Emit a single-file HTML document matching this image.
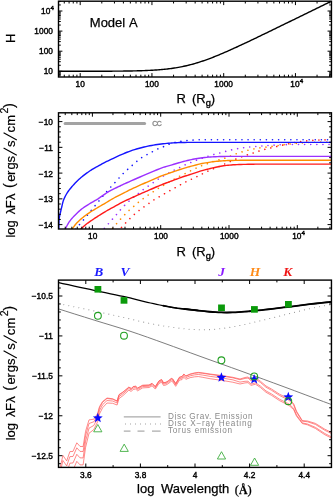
<!DOCTYPE html>
<html><head><meta charset="utf-8"><title>chart</title>
<style>html,body{margin:0;padding:0;background:#fff}body{width:333px;height:497px;overflow:hidden;font-family:"Liberation Sans",sans-serif}svg{display:block;will-change:transform;opacity:0.999}</style>
</head><body>
<svg width="333" height="497" viewBox="0 0 333 497">
<style>text{font-family:"Liberation Sans",sans-serif;fill:#000}.tl{font-size:8.3px;stroke:#000;stroke-width:0.4px;letter-spacing:0.06px}.ax{font-size:13px;word-spacing:3px;stroke:#000;stroke-width:0.25px}.yl{font-size:13px;stroke:#000;stroke-width:0.2px}</style>
<rect width="333" height="497" fill="#fff"/>
<clipPath id="c1"><rect x="58.5" y="1.2" width="272.95" height="75.8"/></clipPath>
<path d="M58.6 71.29 L59.96 71.29 L61.32 71.29 L62.68 71.29 L64.04 71.29 L65.4 71.29 L66.76 71.29 L68.12 71.29 L69.49 71.29 L70.85 71.29 L72.21 71.29 L73.57 71.29 L74.93 71.29 L76.29 71.28 L77.65 71.28 L79.01 71.28 L80.37 71.28 L81.73 71.28 L83.09 71.28 L84.45 71.27 L85.81 71.27 L87.17 71.27 L88.53 71.27 L89.89 71.27 L91.25 71.26 L92.61 71.26 L93.97 71.26 L95.34 71.25 L96.7 71.25 L98.06 71.25 L99.42 71.24 L100.78 71.24 L102.14 71.23 L103.5 71.23 L104.86 71.22 L106.22 71.21 L107.58 71.21 L108.94 71.2 L110.3 71.19 L111.66 71.18 L113.02 71.17 L114.38 71.16 L115.74 71.15 L117.1 71.14 L118.46 71.13 L119.82 71.12 L121.19 71.1 L122.55 71.09 L123.91 71.07 L125.27 71.05 L126.63 71.03 L127.99 71.01 L129.35 70.99 L130.71 70.96 L132.07 70.94 L133.43 70.91 L134.79 70.88 L136.15 70.85 L137.51 70.81 L138.87 70.77 L140.23 70.73 L141.59 70.69 L142.95 70.64 L144.31 70.59 L145.67 70.54 L147.03 70.48 L148.4 70.42 L149.76 70.35 L151.12 70.28 L152.48 70.21 L153.84 70.13 L155.2 70.04 L156.56 69.95 L157.92 69.85 L159.28 69.74 L160.64 69.63 L162 69.51 L163.36 69.38 L164.72 69.25 L166.08 69.1 L167.44 68.95 L168.8 68.79 L170.16 68.62 L171.52 68.44 L172.88 68.24 L174.25 68.04 L175.61 67.83 L176.97 67.6 L178.33 67.37 L179.69 67.12 L181.05 66.86 L182.41 66.59 L183.77 66.3 L185.13 66.01 L186.49 65.7 L187.85 65.38 L189.21 65.04 L190.57 64.69 L191.93 64.33 L193.29 63.96 L194.65 63.57 L196.01 63.18 L197.37 62.77 L198.73 62.34 L200.1 61.91 L201.46 61.46 L202.82 61.01 L204.18 60.54 L205.54 60.06 L206.9 59.58 L208.26 59.08 L209.62 58.57 L210.98 58.05 L212.34 57.53 L213.7 57 L215.06 56.45 L216.42 55.91 L217.78 55.35 L219.14 54.79 L220.5 54.22 L221.86 53.64 L223.22 53.06 L224.58 52.47 L225.95 51.88 L227.31 51.28 L228.67 50.68 L230.03 50.07 L231.39 49.46 L232.75 48.85 L234.11 48.23 L235.47 47.61 L236.83 46.99 L238.19 46.36 L239.55 45.73 L240.91 45.1 L242.27 44.46 L243.63 43.82 L244.99 43.19 L246.35 42.54 L247.71 41.9 L249.07 41.26 L250.43 40.61 L251.8 39.96 L253.16 39.31 L254.52 38.66 L255.88 38.01 L257.24 37.36 L258.6 36.7 L259.96 36.05 L261.32 35.39 L262.68 34.74 L264.04 34.08 L265.4 33.42 L266.76 32.76 L268.12 32.1 L269.48 31.44 L270.84 30.78 L272.2 30.12 L273.56 29.46 L274.92 28.8 L276.28 28.14 L277.64 27.48 L279.01 26.81 L280.37 26.15 L281.73 25.49 L283.09 24.82 L284.45 24.16 L285.81 23.49 L287.17 22.83 L288.53 22.17 L289.89 21.5 L291.25 20.84 L292.61 20.17 L293.97 19.51 L295.33 18.84 L296.69 18.18 L298.05 17.51 L299.41 16.84 L300.77 16.18 L302.13 15.51 L303.49 14.85 L304.86 14.18 L306.22 13.51 L307.58 12.85 L308.94 12.18 L310.3 11.52 L311.66 10.85 L313.02 10.18 L314.38 9.52 L315.74 8.85 L317.1 8.18 L318.46 7.52 L319.82 6.85 L321.18 6.18 L322.54 5.52 L323.9 4.85 L325.26 4.18 L326.62 3.52 L327.98 2.85 L329.34 2.18 L330.71 1.52" fill="none" stroke="#000" stroke-width="1.4" clip-path="url(#c1)"/>
<path d="M80.2 77 v-3.9 M80.2 1.2 v3.9 M151.95 77 v-3.9 M151.95 1.2 v3.9 M223.7 77 v-3.9 M223.7 1.2 v3.9 M295.45 77 v-3.9 M295.45 1.2 v3.9 M58.6 77 v-2.3 M58.6 1.2 v2.3 M64.28 77 v-2.3 M64.28 1.2 v2.3 M69.09 77 v-2.3 M69.09 1.2 v2.3 M73.25 77 v-2.3 M73.25 1.2 v2.3 M76.92 77 v-2.3 M76.92 1.2 v2.3 M101.8 77 v-2.3 M101.8 1.2 v2.3 M114.43 77 v-2.3 M114.43 1.2 v2.3 M123.4 77 v-2.3 M123.4 1.2 v2.3 M130.35 77 v-2.3 M130.35 1.2 v2.3 M136.03 77 v-2.3 M136.03 1.2 v2.3 M140.84 77 v-2.3 M140.84 1.2 v2.3 M145 77 v-2.3 M145 1.2 v2.3 M148.67 77 v-2.3 M148.67 1.2 v2.3 M173.55 77 v-2.3 M173.55 1.2 v2.3 M186.18 77 v-2.3 M186.18 1.2 v2.3 M195.15 77 v-2.3 M195.15 1.2 v2.3 M202.1 77 v-2.3 M202.1 1.2 v2.3 M207.78 77 v-2.3 M207.78 1.2 v2.3 M212.59 77 v-2.3 M212.59 1.2 v2.3 M216.75 77 v-2.3 M216.75 1.2 v2.3 M220.42 77 v-2.3 M220.42 1.2 v2.3 M245.3 77 v-2.3 M245.3 1.2 v2.3 M257.93 77 v-2.3 M257.93 1.2 v2.3 M266.9 77 v-2.3 M266.9 1.2 v2.3 M273.85 77 v-2.3 M273.85 1.2 v2.3 M279.53 77 v-2.3 M279.53 1.2 v2.3 M284.34 77 v-2.3 M284.34 1.2 v2.3 M288.5 77 v-2.3 M288.5 1.2 v2.3 M292.17 77 v-2.3 M292.17 1.2 v2.3 M317.05 77 v-2.3 M317.05 1.2 v2.3 M329.68 77 v-2.3 M329.68 1.2 v2.3" stroke="#000" stroke-width="1.0" fill="none"/>
<path d="M58.5 71.3 h3.9 M331.45 71.3 h-3.9 M58.5 51.2 h3.9 M331.45 51.2 h-3.9 M58.5 31.1 h3.9 M331.45 31.1 h-3.9 M58.5 11 h3.9 M331.45 11 h-3.9 M58.5 75.76 h2.3 M331.45 75.76 h-2.3 M58.5 74.41 h2.3 M331.45 74.41 h-2.3 M58.5 73.25 h2.3 M331.45 73.25 h-2.3 M58.5 72.22 h2.3 M331.45 72.22 h-2.3 M58.5 65.25 h2.3 M331.45 65.25 h-2.3 M58.5 61.71 h2.3 M331.45 61.71 h-2.3 M58.5 59.2 h2.3 M331.45 59.2 h-2.3 M58.5 57.25 h2.3 M331.45 57.25 h-2.3 M58.5 55.66 h2.3 M331.45 55.66 h-2.3 M58.5 54.31 h2.3 M331.45 54.31 h-2.3 M58.5 53.15 h2.3 M331.45 53.15 h-2.3 M58.5 52.12 h2.3 M331.45 52.12 h-2.3 M58.5 45.15 h2.3 M331.45 45.15 h-2.3 M58.5 41.61 h2.3 M331.45 41.61 h-2.3 M58.5 39.1 h2.3 M331.45 39.1 h-2.3 M58.5 37.15 h2.3 M331.45 37.15 h-2.3 M58.5 35.56 h2.3 M331.45 35.56 h-2.3 M58.5 34.21 h2.3 M331.45 34.21 h-2.3 M58.5 33.05 h2.3 M331.45 33.05 h-2.3 M58.5 32.02 h2.3 M331.45 32.02 h-2.3 M58.5 25.05 h2.3 M331.45 25.05 h-2.3 M58.5 21.51 h2.3 M331.45 21.51 h-2.3 M58.5 19 h2.3 M331.45 19 h-2.3 M58.5 17.05 h2.3 M331.45 17.05 h-2.3 M58.5 15.46 h2.3 M331.45 15.46 h-2.3 M58.5 14.11 h2.3 M331.45 14.11 h-2.3 M58.5 12.95 h2.3 M331.45 12.95 h-2.3 M58.5 11.92 h2.3 M331.45 11.92 h-2.3 M58.5 4.95 h2.3 M331.45 4.95 h-2.3 M58.5 1.41 h2.3 M331.45 1.41 h-2.3" stroke="#000" stroke-width="1.0" fill="none"/>
<rect x="58.5" y="1.2" width="272.95" height="75.8" fill="none" stroke="#000" stroke-width="1.4"/>
<text x="80.2" y="87.2" font-size="8.2" text-anchor="middle" class="tl">10</text>
<text x="151.95" y="87.2" font-size="8.2" text-anchor="middle" class="tl">100</text>
<text x="223.7" y="87.2" font-size="8.2" text-anchor="middle" class="tl">1000</text>
<text x="296.75" y="87.2" font-size="8.2" text-anchor="middle" class="tl">10<tspan dy="-3.8" style="font-size:6.2px">4</tspan></text>
<text x="53" y="74.3" font-size="8.2" text-anchor="end" class="tl">10</text>
<text x="53" y="54.2" font-size="8.2" text-anchor="end" class="tl">100</text>
<text x="53" y="34.1" font-size="8.2" text-anchor="end" class="tl">1000</text>
<text x="50.4" y="14" text-anchor="end" class="tl">10</text><text x="50.5" y="10" class="tl" style="font-size:6.2px">4</text>
<text x="89.8" y="27.2" class="ax" style="word-spacing:0.8px">Model A</text>
<text transform="translate(14.8,42.9) rotate(-90)" class="ax">H</text>
<text x="176.6" y="102.7" class="ax" style="word-spacing:2.3px">R (R<tspan dy="3.3" style="font-size:9.3px;stroke-width:0.4px">g</tspan><tspan dy="-3.3">)</tspan></text>
<clipPath id="c2"><rect x="58.5" y="112.8" width="272.95" height="116.2"/></clipPath>
<path d="M65.1 123.5 H144.6" stroke="#a3a3a3" stroke-width="3" stroke-linecap="round" fill="none"/>
<text x="152.2" y="125.6" font-size="7" style="fill:#858585;stroke:#858585;stroke-width:0.3px;letter-spacing:-0.4px">CC</text>
<g clip-path="url(#c2)" fill="none">
<path d="M117.4 232 L118.2 231.1 L119.34 229.83 L120.68 228.33 L122.08 226.77 L123.4 225.31 L124.5 224.1 L125.38 223.15 L126.13 222.34 L126.81 221.62 L127.46 220.95 L128.1 220.29 L128.8 219.6 L129.54 218.88 L130.29 218.17 L131.04 217.46 L131.79 216.77 L132.55 216.08 L133.3 215.4 L134.05 214.73 L134.79 214.07 L135.54 213.41 L136.29 212.77 L137.04 212.13 L137.8 211.5 L138.57 210.88 L139.33 210.28 L140.11 209.68 L140.89 209.09 L141.69 208.5 L142.5 207.9 L143.34 207.3 L144.2 206.7 L145.08 206.11 L145.96 205.51 L146.84 204.91 L147.7 204.3 L148.54 203.68 L149.36 203.06 L150.18 202.43 L151 201.8 L151.84 201.19 L152.7 200.6 L153.59 200.03 L154.51 199.49 L155.45 198.95 L156.39 198.43 L157.31 197.91 L158.2 197.4 L159.06 196.9 L159.88 196.42 L160.69 195.95 L161.51 195.48 L162.34 195 L163.2 194.5 L164.1 193.98 L165.04 193.44 L165.99 192.9 L166.94 192.36 L167.88 191.82 L168.8 191.3 L169.69 190.8 L170.56 190.31 L171.41 189.84 L172.27 189.36 L173.13 188.89 L174 188.4 L174.89 187.91 L175.79 187.41 L176.69 186.91 L177.59 186.4 L178.5 185.9 L179.4 185.4 L180.3 184.9 L181.19 184.39 L182.09 183.88 L182.99 183.38 L183.89 182.88 L184.8 182.4 L185.72 181.93 L186.66 181.47 L187.6 181.02 L188.54 180.57 L189.48 180.13 L190.4 179.7 L191.31 179.28 L192.2 178.87 L193.09 178.46 L193.99 178.06 L194.88 177.64 L195.8 177.2 L196.73 176.74 L197.68 176.26 L198.63 175.77 L199.59 175.27 L200.55 174.78 L201.5 174.3 L202.45 173.82 L203.41 173.35 L204.37 172.88 L205.32 172.41 L206.27 171.95 L207.2 171.5 L208.11 171.06 L208.99 170.64 L209.86 170.23 L210.74 169.81 L211.65 169.41 L212.6 169 L213.55 168.62 L214.47 168.28 L215.43 167.94 L216.45 167.57 L217.59 167.13 L218.9 166.6 L220.41 165.95 L222.09 165.21 L223.89 164.4 L225.76 163.56 L227.64 162.72 L229.5 161.9 L231.34 161.09 L233.21 160.27 L235.1 159.44 L237 158.63 L238.9 157.84 L240.8 157.1 L242.7 156.41 L244.6 155.75 L246.5 155.12 L248.4 154.51 L250.3 153.91 L252.2 153.3 L254.08 152.68 L255.94 152.06 L257.8 151.44 L259.67 150.84 L261.57 150.26 L263.5 149.7 L265.48 149.18 L267.5 148.68 L269.54 148.21 L271.59 147.74 L273.65 147.28 L275.7 146.8 L277.74 146.31 L279.79 145.81 L281.84 145.31 L283.9 144.82 L285.95 144.35 L288 143.9 L290.05 143.47 L292.1 143.05 L294.15 142.64 L296.2 142.26 L298.25 141.91 L300.3 141.6 L302.35 141.33 L304.4 141.09 L306.45 140.89 L308.5 140.71 L310.55 140.55 L312.6 140.4 L314.72 140.27 L316.93 140.17 L319.14 140.08 L321.26 140.01 L323.21 139.95 L324.9 139.9 L326.35 139.86 L327.62 139.83 L328.72 139.82 L329.65 139.81 L330.41 139.81 L331 139.8" stroke="#ff1a1a" stroke-width="1.6" stroke-dasharray="0.01 6.1" stroke-linecap="round"/>
<path d="M108.6 233 L109.47 231.98 L110.7 230.54 L112.14 228.84 L113.64 227.09 L115.05 225.44 L116.2 224.1 L117.08 223.07 L117.82 222.21 L118.46 221.47 L119.06 220.8 L119.65 220.12 L120.3 219.4 L120.99 218.64 L121.69 217.88 L122.39 217.13 L123.09 216.38 L123.79 215.64 L124.5 214.9 L125.21 214.17 L125.92 213.43 L126.63 212.71 L127.35 211.99 L128.07 211.29 L128.8 210.6 L129.54 209.94 L130.29 209.3 L131.04 208.68 L131.79 208.06 L132.55 207.44 L133.3 206.8 L134.05 206.14 L134.79 205.47 L135.54 204.79 L136.29 204.11 L137.04 203.45 L137.8 202.8 L138.57 202.18 L139.34 201.57 L140.12 200.98 L140.9 200.39 L141.7 199.8 L142.5 199.2 L143.31 198.58 L144.14 197.96 L144.98 197.33 L145.81 196.71 L146.66 196.09 L147.5 195.5 L148.34 194.93 L149.19 194.37 L150.04 193.83 L150.9 193.29 L151.75 192.75 L152.6 192.2 L153.45 191.64 L154.29 191.07 L155.13 190.49 L155.98 189.92 L156.83 189.36 L157.7 188.8 L158.55 188.27 L159.39 187.77 L160.22 187.28 L161.1 186.76 L162.05 186.21 L163.1 185.6 L164.27 184.92 L165.53 184.17 L166.86 183.39 L168.24 182.59 L169.63 181.79 L171 181 L172.41 180.2 L173.87 179.36 L175.36 178.52 L176.8 177.71 L178.17 176.96 L179.4 176.3 L180.47 175.76 L181.41 175.32 L182.28 174.94 L183.1 174.58 L183.92 174.21 L184.8 173.8 L185.72 173.34 L186.66 172.85 L187.6 172.36 L188.54 171.86 L189.48 171.37 L190.4 170.9 L191.31 170.45 L192.2 170.01 L193.09 169.58 L193.99 169.15 L194.88 168.72 L195.8 168.3 L196.73 167.87 L197.68 167.44 L198.63 167.02 L199.59 166.6 L200.55 166.19 L201.5 165.8 L202.45 165.43 L203.39 165.07 L204.33 164.73 L205.28 164.39 L206.23 164.05 L207.2 163.7 L208.12 163.35 L208.97 163.01 L209.84 162.68 L210.78 162.32 L211.88 161.93 L213.2 161.5 L214.8 161.03 L216.63 160.52 L218.61 159.99 L220.67 159.42 L222.73 158.83 L224.7 158.2 L226.61 157.52 L228.51 156.78 L230.41 156.01 L232.31 155.23 L234.21 154.49 L236.1 153.8 L237.99 153.16 L239.87 152.56 L241.75 151.98 L243.63 151.42 L245.51 150.9 L247.4 150.4 L249.3 149.93 L251.2 149.49 L253.1 149.07 L255 148.69 L256.9 148.33 L258.8 148 L260.68 147.71 L262.54 147.47 L264.4 147.26 L266.27 147.05 L268.17 146.84 L270.1 146.6 L272.08 146.33 L274.1 146.04 L276.14 145.75 L278.19 145.46 L280.25 145.17 L282.3 144.9 L284.33 144.64 L286.36 144.39 L288.39 144.15 L290.43 143.92 L292.5 143.7 L294.6 143.5 L296.75 143.32 L298.93 143.15 L301.14 142.99 L303.37 142.85 L305.59 142.72 L307.8 142.6 L310.04 142.49 L312.32 142.39 L314.6 142.3 L316.84 142.22 L318.99 142.16 L321 142.1 L322.97 142.06 L324.94 142.03 L326.82 142.02 L328.53 142.01 L329.95 142.01 L331 142" stroke="#ff8c00" stroke-width="1.6" stroke-dasharray="0.01 6.1" stroke-linecap="round"/>
<path d="M100.4 233 L101.28 231.98 L102.53 230.54 L103.99 228.84 L105.51 227.09 L106.94 225.44 L108.1 224.1 L108.99 223.07 L109.74 222.21 L110.38 221.47 L110.97 220.8 L111.56 220.12 L112.2 219.4 L112.87 218.64 L113.54 217.9 L114.2 217.16 L114.86 216.42 L115.53 215.67 L116.2 214.9 L116.88 214.1 L117.56 213.28 L118.24 212.45 L118.92 211.62 L119.61 210.8 L120.3 210 L120.99 209.22 L121.69 208.46 L122.39 207.7 L123.09 206.96 L123.79 206.22 L124.5 205.5 L125.21 204.79 L125.91 204.11 L126.62 203.43 L127.33 202.76 L128.06 202.08 L128.8 201.4 L129.56 200.7 L130.33 199.99 L131.12 199.27 L131.91 198.56 L132.71 197.87 L133.5 197.2 L134.3 196.57 L135.1 195.96 L135.91 195.37 L136.72 194.79 L137.52 194.2 L138.3 193.6 L139.06 192.99 L139.8 192.37 L140.53 191.75 L141.27 191.13 L142.02 190.51 L142.8 189.9 L143.62 189.29 L144.46 188.69 L145.31 188.09 L146.18 187.49 L147.04 186.89 L147.9 186.3 L148.75 185.71 L149.6 185.13 L150.44 184.55 L151.29 183.97 L152.14 183.39 L153 182.8 L153.86 182.2 L154.73 181.59 L155.6 180.98 L156.47 180.37 L157.34 179.77 L158.2 179.2 L159.05 178.65 L159.89 178.13 L160.73 177.62 L161.57 177.11 L162.43 176.61 L163.3 176.1 L164.19 175.58 L165.1 175.06 L166.03 174.54 L166.95 174.02 L167.88 173.51 L168.8 173 L169.71 172.5 L170.63 172.01 L171.54 171.53 L172.45 171.04 L173.37 170.57 L174.3 170.1 L175.24 169.64 L176.19 169.19 L177.14 168.74 L178.09 168.3 L179.05 167.85 L180 167.4 L180.95 166.93 L181.91 166.45 L182.87 165.97 L183.82 165.49 L184.77 165.03 L185.7 164.6 L186.61 164.2 L187.5 163.83 L188.38 163.48 L189.27 163.13 L190.17 162.78 L191.1 162.4 L192 162.02 L192.86 161.64 L193.73 161.25 L194.69 160.84 L195.79 160.4 L197.1 159.9 L198.74 159.32 L200.67 158.66 L202.76 157.96 L204.84 157.27 L206.77 156.63 L208.4 156.1 L209.69 155.68 L210.74 155.34 L211.65 155.06 L212.49 154.81 L213.34 154.57 L214.3 154.3 L215.29 154.04 L216.24 153.8 L217.2 153.58 L218.24 153.33 L219.42 153.05 L220.8 152.7 L222.42 152.27 L224.23 151.77 L226.19 151.23 L228.22 150.69 L230.28 150.16 L232.3 149.7 L234.3 149.29 L236.34 148.9 L238.4 148.54 L240.47 148.2 L242.54 147.89 L244.6 147.6 L246.65 147.35 L248.69 147.13 L250.72 146.93 L252.77 146.75 L254.83 146.58 L256.9 146.4 L258.94 146.22 L260.93 146.04 L262.93 145.88 L265 145.71 L267.21 145.55 L269.6 145.4 L271.92 145.25 L274.07 145.09 L276.34 144.94 L279.06 144.81 L282.51 144.69 L287 144.6 L293.3 144.54 L301.33 144.51 L310.09 144.5 L318.61 144.5 L325.91 144.5 L331 144.5" stroke="#9b30ff" stroke-width="1.6" stroke-dasharray="0.01 6.1" stroke-linecap="round"/>
<path d="M71.7 234 L72.56 232.97 L73.75 231.54 L75.16 229.84 L76.67 228.02 L78.19 226.19 L79.6 224.5 L80.92 222.92 L82.24 221.34 L83.56 219.76 L84.87 218.17 L86.19 216.59 L87.5 215 L88.76 213.46 L89.96 211.98 L91.16 210.49 L92.41 208.94 L93.78 207.27 L95.3 205.4 L97.06 203.24 L99.04 200.81 L101.12 198.26 L103.21 195.71 L105.21 193.31 L107 191.2 L108.57 189.41 L109.99 187.85 L111.31 186.44 L112.58 185.09 L113.86 183.74 L115.2 182.3 L116.58 180.78 L117.94 179.23 L119.32 177.68 L120.71 176.13 L122.13 174.6 L123.6 173.1 L125.17 171.59 L126.86 170.06 L128.57 168.54 L130.23 167.1 L131.77 165.77 L133.1 164.6 L134.19 163.63 L135.09 162.81 L135.86 162.12 L136.57 161.5 L137.26 160.9 L138 160.3 L138.76 159.7 L139.5 159.14 L140.22 158.61 L140.96 158.1 L141.71 157.6 L142.5 157.1 L143.34 156.6 L144.21 156.11 L145.1 155.62 L146 155.15 L146.91 154.67 L147.8 154.2 L148.68 153.73 L149.55 153.26 L150.43 152.8 L151.3 152.34 L152.19 151.87 L153.1 151.4 L154.02 150.92 L154.96 150.42 L155.9 149.93 L156.86 149.43 L157.82 148.96 L158.8 148.5 L159.8 148.07 L160.81 147.67 L161.84 147.28 L162.87 146.89 L163.9 146.5 L164.9 146.1 L165.89 145.68 L166.86 145.24 L167.83 144.79 L168.79 144.36 L169.74 143.96 L170.7 143.6 L171.65 143.29 L172.6 143.01 L173.54 142.76 L174.48 142.53 L175.43 142.31 L176.4 142.1 L177.38 141.9 L178.37 141.72 L179.37 141.55 L180.37 141.39 L181.38 141.24 L182.4 141.1 L183.42 140.96 L184.46 140.83 L185.49 140.71 L186.53 140.6 L187.57 140.5 L188.6 140.4 L189.62 140.31 L190.63 140.24 L191.64 140.17 L192.66 140.11 L193.67 140.05 L194.7 140 L195.59 139.95 L196.31 139.91 L197.04 139.88 L197.95 139.85 L199.21 139.82 L201 139.8 L202.37 139.78 L202.99 139.77 L203.96 139.76 L206.38 139.76 L211.36 139.75 L220 139.75 L234.46 139.75 L254.3 139.75 L276.69 139.75 L298.81 139.75 L317.86 139.75 L331 139.75" stroke="#1414ff" stroke-width="1.6" stroke-dasharray="0.01 6.1" stroke-linecap="round"/>
<path d="M75 235 L75.71 234.29 L76.7 233.28 L77.86 232.1 L79.1 230.85 L80.32 229.65 L81.4 228.6 L82.35 227.7 L83.25 226.86 L84.13 226.06 L84.99 225.3 L85.88 224.55 L86.8 223.8 L87.77 223.06 L88.79 222.33 L89.81 221.61 L90.84 220.92 L91.84 220.25 L92.8 219.6 L93.69 219 L94.53 218.44 L95.34 217.91 L96.16 217.38 L97.04 216.82 L98 216.2 L99.04 215.53 L100.13 214.83 L101.26 214.1 L102.45 213.35 L103.7 212.58 L105 211.8 L106.38 211 L107.85 210.17 L109.38 209.33 L110.93 208.48 L112.48 207.63 L114 206.8 L115.5 205.97 L117 205.13 L118.5 204.3 L120 203.48 L121.5 202.68 L123 201.9 L124.5 201.16 L126 200.44 L127.5 199.75 L129 199.07 L130.5 198.39 L132 197.7 L133.5 197.01 L135 196.32 L136.5 195.63 L138 194.95 L139.5 194.27 L141 193.6 L142.49 192.94 L143.96 192.3 L145.44 191.66 L146.93 191.02 L148.44 190.37 L150 189.7 L151.63 188.99 L153.33 188.25 L155.06 187.5 L156.78 186.76 L158.44 186.05 L160 185.4 L161.46 184.81 L162.85 184.26 L164.19 183.74 L165.48 183.25 L166.75 182.77 L168 182.3 L169.22 181.84 L170.41 181.4 L171.56 180.97 L172.7 180.55 L173.84 180.13 L175 179.7 L176.18 179.26 L177.39 178.8 L178.59 178.35 L179.77 177.91 L180.91 177.49 L182 177.1 L182.93 176.78 L183.71 176.53 L184.45 176.29 L185.27 176.04 L186.28 175.72 L187.6 175.3 L189.32 174.73 L191.37 174.05 L193.61 173.31 L195.92 172.55 L198.16 171.83 L200.2 171.2 L202.08 170.66 L203.91 170.15 L205.67 169.69 L207.36 169.26 L208.94 168.86 L210.4 168.5 L211.69 168.18 L212.81 167.91 L213.84 167.67 L214.83 167.45 L215.86 167.23 L217 167 L218.23 166.76 L219.49 166.51 L220.79 166.26 L222.13 166.03 L223.53 165.8 L225 165.6 L226.52 165.42 L228.07 165.24 L229.69 165.09 L231.37 164.94 L233.14 164.82 L235 164.7 L236.95 164.6 L238.96 164.52 L241.06 164.46 L243.26 164.4 L245.57 164.35 L248 164.3 L250.03 164.25 L251.56 164.21 L253.19 164.18 L255.56 164.14 L259.28 164.12 L265 164.1 L273.93 164.09 L285.81 164.09 L299.06 164.09 L312.07 164.09 L323.25 164.1 L331 164.1" stroke="#ff1a1a" stroke-width="1.4"/>
<path d="M68.5 235 L68.91 234.3 L69.48 233.33 L70.15 232.18 L70.89 230.94 L71.65 229.72 L72.4 228.6 L73.13 227.57 L73.89 226.55 L74.67 225.54 L75.48 224.54 L76.32 223.56 L77.2 222.6 L78.13 221.65 L79.11 220.72 L80.12 219.8 L81.16 218.9 L82.19 218.04 L83.2 217.2 L84.17 216.42 L85.1 215.7 L86.02 215 L86.99 214.3 L88.04 213.58 L89.2 212.8 L90.53 211.94 L91.99 211.03 L93.54 210.08 L95.1 209.14 L96.61 208.24 L98 207.4 L99.25 206.66 L100.39 205.98 L101.49 205.34 L102.59 204.71 L103.74 204.04 L105 203.3 L106.38 202.48 L107.85 201.6 L109.38 200.68 L110.93 199.76 L112.48 198.86 L114 198 L115.51 197.19 L117.04 196.4 L118.56 195.62 L120.07 194.87 L121.56 194.13 L123 193.4 L124.38 192.69 L125.7 192 L127 191.32 L128.3 190.65 L129.62 189.98 L131 189.3 L132.43 188.62 L133.89 187.94 L135.38 187.27 L136.89 186.59 L138.43 185.9 L140 185.2 L141.61 184.48 L143.26 183.75 L144.94 183.01 L146.63 182.27 L148.32 181.53 L150 180.8 L151.69 180.06 L153.41 179.31 L155.12 178.56 L156.81 177.83 L158.45 177.13 L160 176.5 L161.46 175.93 L162.85 175.41 L164.19 174.93 L165.48 174.48 L166.75 174.04 L168 173.6 L169.22 173.17 L170.41 172.76 L171.56 172.36 L172.7 171.97 L173.84 171.59 L175 171.2 L176.18 170.8 L177.39 170.4 L178.59 170.01 L179.77 169.62 L180.91 169.25 L182 168.9 L182.93 168.6 L183.71 168.35 L184.45 168.11 L185.27 167.86 L186.28 167.57 L187.6 167.2 L189.32 166.73 L191.37 166.16 L193.61 165.56 L195.92 164.95 L198.16 164.38 L200.2 163.9 L202.08 163.5 L203.91 163.15 L205.67 162.84 L207.36 162.57 L208.94 162.32 L210.4 162.1 L211.69 161.91 L212.81 161.75 L213.84 161.62 L214.83 161.51 L215.86 161.41 L217 161.3 L218.23 161.18 L219.49 161.07 L220.79 160.97 L222.13 160.87 L223.53 160.78 L225 160.7 L226.38 160.63 L227.63 160.57 L228.94 160.52 L230.48 160.48 L232.44 160.44 L235 160.4 L237.77 160.36 L240.52 160.32 L243.69 160.28 L247.7 160.25 L253 160.22 L260 160.2 L269.99 160.19 L282.89 160.19 L297.06 160.19 L310.89 160.19 L322.74 160.2 L331 160.2" stroke="#ff8c00" stroke-width="1.4"/>
<path d="M62.5 236 L62.85 235.12 L63.32 233.9 L63.89 232.45 L64.51 230.9 L65.16 229.38 L65.8 228 L66.43 226.75 L67.07 225.52 L67.73 224.31 L68.43 223.13 L69.19 221.96 L70 220.8 L70.9 219.65 L71.87 218.51 L72.89 217.39 L73.93 216.29 L74.98 215.22 L76 214.2 L76.99 213.22 L77.96 212.29 L78.92 211.39 L79.91 210.51 L80.93 209.65 L82 208.8 L83.11 207.97 L84.25 207.17 L85.43 206.39 L86.64 205.61 L87.89 204.82 L89.2 204 L90.55 203.18 L91.93 202.38 L93.36 201.56 L94.84 200.71 L96.39 199.8 L98 198.8 L99.71 197.67 L101.5 196.42 L103.36 195.11 L105.25 193.8 L107.14 192.54 L109 191.4 L110.9 190.35 L112.89 189.34 L114.88 188.39 L116.78 187.5 L118.51 186.7 L120 186 L121.06 185.47 L121.74 185.13 L122.25 184.88 L122.81 184.6 L123.66 184.21 L125 183.6 L126.86 182.76 L129.07 181.78 L131.56 180.68 L134.26 179.49 L137.09 178.25 L140 177 L143.14 175.65 L146.59 174.16 L150.19 172.62 L153.74 171.13 L157.07 169.75 L160 168.6 L162.49 167.69 L164.67 166.96 L166.62 166.36 L168.44 165.83 L170.21 165.33 L172 164.8 L173.81 164.25 L175.56 163.73 L177.25 163.24 L178.89 162.77 L180.47 162.32 L182 161.9 L183.44 161.51 L184.77 161.16 L186.06 160.83 L187.33 160.51 L188.63 160.21 L190 159.9 L191.43 159.59 L192.87 159.29 L194.34 159 L195.86 158.72 L197.44 158.45 L199.1 158.2 L200.85 157.96 L202.7 157.74 L204.61 157.52 L206.54 157.33 L208.49 157.15 L210.4 157 L212.22 156.87 L213.94 156.77 L215.67 156.68 L217.49 156.61 L219.51 156.55 L221.8 156.5 L223.6 156.46 L224.67 156.43 L225.93 156.42 L228.29 156.41 L232.68 156.41 L240 156.4 L252.01 156.39 L268.31 156.39 L286.64 156.39 L304.71 156.4 L320.26 156.4 L331 156.4" stroke="#9b30ff" stroke-width="1.4"/>
<path d="M58.8 232 L58.81 230.98 L58.81 229.55 L58.82 227.86 L58.83 226.1 L58.86 224.42 L58.9 223 L58.94 221.89 L58.97 220.97 L59.02 220.14 L59.09 219.3 L59.21 218.35 L59.4 217.2 L59.67 215.79 L60.02 214.19 L60.42 212.48 L60.83 210.76 L61.24 209.1 L61.6 207.6 L61.91 206.27 L62.18 205.03 L62.44 203.86 L62.72 202.73 L63.03 201.62 L63.4 200.5 L63.84 199.36 L64.32 198.23 L64.84 197.12 L65.39 196.03 L65.95 194.99 L66.5 194 L67.03 193.1 L67.54 192.29 L68.07 191.52 L68.63 190.74 L69.27 189.92 L70 189 L70.86 187.96 L71.81 186.82 L72.84 185.63 L73.91 184.44 L74.97 183.28 L76 182.2 L77 181.2 L78 180.23 L79 179.31 L80 178.41 L81 177.54 L82 176.7 L83 175.89 L84 175.1 L85 174.35 L86 173.62 L87 172.9 L88 172.2 L89.02 171.49 L90.07 170.79 L91.12 170.1 L92.15 169.44 L93.12 168.84 L94 168.3 L94.76 167.86 L95.41 167.51 L96 167.22 L96.59 166.93 L97.24 166.6 L98 166.2 L98.88 165.7 L99.85 165.14 L100.88 164.55 L101.93 163.94 L102.98 163.35 L104 162.8 L104.94 162.32 L105.8 161.89 L106.66 161.47 L107.6 161.03 L108.69 160.52 L110 159.9 L111.59 159.15 L113.4 158.28 L115.37 157.34 L117.41 156.39 L119.44 155.46 L121.4 154.6 L123.29 153.8 L125.17 153.02 L127.05 152.27 L128.93 151.54 L130.81 150.85 L132.7 150.2 L134.6 149.59 L136.5 149.01 L138.4 148.46 L140.3 147.95 L142.2 147.46 L144.1 147 L145.99 146.57 L147.87 146.16 L149.75 145.79 L151.63 145.44 L153.51 145.11 L155.4 144.8 L157.32 144.51 L159.26 144.25 L161.21 144.01 L163.13 143.79 L165 143.58 L166.8 143.4 L168.48 143.24 L170.07 143.1 L171.61 142.98 L173.14 142.88 L174.72 142.79 L176.4 142.7 L177.94 142.62 L179.26 142.56 L180.63 142.51 L182.31 142.46 L184.58 142.43 L187.7 142.4 L190.96 142.38 L194 142.38 L197.62 142.38 L202.63 142.39 L209.82 142.4 L220 142.4 L235.23 142.4 L255.28 142.4 L277.52 142.4 L299.31 142.4 L318.01 142.4 L331 142.4" stroke="#1414ff" stroke-width="1.4"/>
</g>
<path d="M92.4 229 v-3.9 M92.4 112.8 v3.9 M160.7 229 v-3.9 M160.7 112.8 v3.9 M229 229 v-3.9 M229 112.8 v3.9 M297.3 229 v-3.9 M297.3 112.8 v3.9 M65.22 229 v-2.3 M65.22 112.8 v2.3 M71.84 229 v-2.3 M71.84 112.8 v2.3 M77.25 229 v-2.3 M77.25 112.8 v2.3 M81.82 229 v-2.3 M81.82 112.8 v2.3 M85.78 229 v-2.3 M85.78 112.8 v2.3 M89.27 229 v-2.3 M89.27 112.8 v2.3 M112.96 229 v-2.3 M112.96 112.8 v2.3 M124.99 229 v-2.3 M124.99 112.8 v2.3 M133.52 229 v-2.3 M133.52 112.8 v2.3 M140.14 229 v-2.3 M140.14 112.8 v2.3 M145.55 229 v-2.3 M145.55 112.8 v2.3 M150.12 229 v-2.3 M150.12 112.8 v2.3 M154.08 229 v-2.3 M154.08 112.8 v2.3 M157.57 229 v-2.3 M157.57 112.8 v2.3 M181.26 229 v-2.3 M181.26 112.8 v2.3 M193.29 229 v-2.3 M193.29 112.8 v2.3 M201.82 229 v-2.3 M201.82 112.8 v2.3 M208.44 229 v-2.3 M208.44 112.8 v2.3 M213.85 229 v-2.3 M213.85 112.8 v2.3 M218.42 229 v-2.3 M218.42 112.8 v2.3 M222.38 229 v-2.3 M222.38 112.8 v2.3 M225.87 229 v-2.3 M225.87 112.8 v2.3 M249.56 229 v-2.3 M249.56 112.8 v2.3 M261.59 229 v-2.3 M261.59 112.8 v2.3 M270.12 229 v-2.3 M270.12 112.8 v2.3 M276.74 229 v-2.3 M276.74 112.8 v2.3 M282.15 229 v-2.3 M282.15 112.8 v2.3 M286.72 229 v-2.3 M286.72 112.8 v2.3 M290.68 229 v-2.3 M290.68 112.8 v2.3 M294.17 229 v-2.3 M294.17 112.8 v2.3 M317.86 229 v-2.3 M317.86 112.8 v2.3 M329.89 229 v-2.3 M329.89 112.8 v2.3" stroke="#000" stroke-width="1.0" fill="none"/>
<path d="M58.5 224.6 h3.9 M331.45 224.6 h-3.9 M58.5 198.85 h3.9 M331.45 198.85 h-3.9 M58.5 173.1 h3.9 M331.45 173.1 h-3.9 M58.5 147.35 h3.9 M331.45 147.35 h-3.9 M58.5 121.6 h3.9 M331.45 121.6 h-3.9 M58.5 219.45 h2.3 M331.45 219.45 h-2.3 M58.5 214.3 h2.3 M331.45 214.3 h-2.3 M58.5 209.15 h2.3 M331.45 209.15 h-2.3 M58.5 204 h2.3 M331.45 204 h-2.3 M58.5 193.7 h2.3 M331.45 193.7 h-2.3 M58.5 188.55 h2.3 M331.45 188.55 h-2.3 M58.5 183.4 h2.3 M331.45 183.4 h-2.3 M58.5 178.25 h2.3 M331.45 178.25 h-2.3 M58.5 167.95 h2.3 M331.45 167.95 h-2.3 M58.5 162.8 h2.3 M331.45 162.8 h-2.3 M58.5 157.65 h2.3 M331.45 157.65 h-2.3 M58.5 152.5 h2.3 M331.45 152.5 h-2.3 M58.5 142.2 h2.3 M331.45 142.2 h-2.3 M58.5 137.05 h2.3 M331.45 137.05 h-2.3 M58.5 131.9 h2.3 M331.45 131.9 h-2.3 M58.5 126.75 h2.3 M331.45 126.75 h-2.3 M58.5 116.45 h2.3 M331.45 116.45 h-2.3" stroke="#000" stroke-width="1.0" fill="none"/>
<rect x="58.5" y="112.8" width="272.95" height="116.2" fill="none" stroke="#000" stroke-width="1.4"/>
<text x="92.7" y="239" font-size="8.2" text-anchor="middle" class="tl">10</text>
<text x="161" y="239" font-size="8.2" text-anchor="middle" class="tl">100</text>
<text x="229.3" y="239" font-size="8.2" text-anchor="middle" class="tl">1000</text>
<text x="298.6" y="239" font-size="8.2" text-anchor="middle" class="tl">10<tspan dy="-3.8" style="font-size:6.2px">4</tspan></text>
<text x="53" y="228" font-size="8.2" text-anchor="end" class="tl">−14</text>
<text x="53" y="202.25" font-size="8.2" text-anchor="end" class="tl">−13</text>
<text x="53" y="176.5" font-size="8.2" text-anchor="end" class="tl">−12</text>
<text x="53" y="150.75" font-size="8.2" text-anchor="end" class="tl">−11</text>
<text x="53" y="125" font-size="8.2" text-anchor="end" class="tl">−10</text>
<text x="176.6" y="255.5" class="ax" style="word-spacing:2.3px">R (R<tspan dy="3.3" style="font-size:9.3px;stroke-width:0.4px">g</tspan><tspan dy="-3.3">)</tspan></text>
<g transform="translate(14.6,236.9) rotate(-90)"><text x="-0.6" y="0" class="yl">l</text><text x="2.1" y="0" class="yl">o</text><text x="9.4" y="0" class="yl">g</text><text x="22.7" y="0" class="yl">λ</text><text x="28.7" y="0" class="yl">F</text><text x="36.8" y="0" class="yl">λ</text><text x="55.2" y="0" class="yl">e</text><text x="62" y="0" class="yl">r</text><text x="67.4" y="0" class="yl">g</text><text x="74.5" y="0" class="yl">s</text><text x="89.8" y="0" class="yl">s</text><text x="104.4" y="0" class="yl">c</text><text x="111.2" y="0" class="yl">m</text><text x="48.8" y="-0.7" class="yl" style="font-size:14.5px">(</text><text x="128.9" y="-0.7" class="yl" style="font-size:14.5px">)</text><text x="123.3" y="-6.3" class="yl" style="font-size:10.5px">2</text><path d="M81.6 2.2 L88.8 -11" stroke="#000" stroke-width="1.1" fill="none"/><path d="M96.9 2.2 L104.1 -11" stroke="#000" stroke-width="1.1" fill="none"/></g>
<g transform="translate(14.6,439.6) rotate(-90)"><text x="-0.6" y="0" class="yl">l</text><text x="2.1" y="0" class="yl">o</text><text x="9.4" y="0" class="yl">g</text><text x="22.7" y="0" class="yl">λ</text><text x="28.7" y="0" class="yl">F</text><text x="36.8" y="0" class="yl">λ</text><text x="55.2" y="0" class="yl">e</text><text x="62" y="0" class="yl">r</text><text x="67.4" y="0" class="yl">g</text><text x="74.5" y="0" class="yl">s</text><text x="89.8" y="0" class="yl">s</text><text x="104.4" y="0" class="yl">c</text><text x="111.2" y="0" class="yl">m</text><text x="48.8" y="-0.7" class="yl" style="font-size:14.5px">(</text><text x="128.9" y="-0.7" class="yl" style="font-size:14.5px">)</text><text x="123.3" y="-6.3" class="yl" style="font-size:10.5px">2</text><path d="M81.6 2.2 L88.8 -11" stroke="#000" stroke-width="1.1" fill="none"/><path d="M96.9 2.2 L104.1 -11" stroke="#000" stroke-width="1.1" fill="none"/></g>
<clipPath id="c3"><rect x="58.5" y="280.1" width="272.95" height="187.3"/></clipPath>
<g clip-path="url(#c3)" fill="none">
<path d="M58 475 L60.4 466.5 L62.9 455.4 L66.7 460.9 L69.9 451.6 L73 451.4 L76.8 442.8 L80 446.4 L83.1 446.6 L85.6 431.2 L89 419.9 L93.8 419.2 L97.6 413.5 L99.5 406.6 L102.6 401.5 L107 398 L112.7 398.8 L117.1 400.9 L119 394.6 L122.8 392.1 L125 390.3 L128.8 387.1 L131.3 388.4 L133.2 386.5 L135.7 386.2 L137.6 388 L142.7 385.2 L149 385 L152.1 383.3 L155.3 386.5 L159 380.8 L161.6 379.5 L163.5 382.7 L166 382.2 L168.2 380.9 L171.3 378.4 L172.6 378.8 L175.7 383.4 L179.5 377.1 L182 376.5 L183.9 374 L185.8 375.9 L190.2 374 L194.6 372.9 L198.4 372.4 L202.8 372.9 L210.1 374 L221.5 375.5 L232.8 377.3 L240 379 L245 377.5 L248 377 L251 379.5 L255.5 378 L260.4 381.2 L266 386 L271.5 389 L279.5 394.2 L288.9 398.9 L293.6 403.6 L296.5 411.2 L302.3 420.6 L307.5 421 L315.4 423.4 L324.8 429.2 L332 432.7" stroke="#ff5252" stroke-width="0.68" stroke-linejoin="round"/>
<path d="M58 480.11 L60.4 471.6 L62.9 460.48 L66.7 465.96 L69.9 456.64 L73 456.43 L76.8 447.8 L80 451.39 L83.1 451.54 L85.6 435.55 L89 423.5 L93.8 421.75 L97.6 415.09 L99.5 407.79 L102.6 402.25 L107 398.5 L112.7 399.25 L117.1 401.31 L119 395 L122.8 392.46 L125 390.64 L128.8 387.41 L131.3 388.7 L133.2 386.79 L135.7 386.49 L137.6 388.28 L142.7 385.47 L149 385.25 L152.1 383.55 L155.3 386.76 L159 381.06 L161.6 379.77 L163.5 382.97 L166 382.48 L168.2 381.18 L171.3 378.69 L172.6 379.09 L175.7 383.69 L179.5 377.4 L182 376.81 L183.9 374.32 L185.8 376.24 L190.2 374.36 L194.6 373.29 L198.4 372.82 L202.8 373.34 L210.1 374.47 L221.5 375.98 L232.8 377.82 L240 379.72 L245 378.43 L248 378.07 L251 380.68 L255.5 379.24 L260.4 382.45 L266 387.26 L271.5 390.27 L279.5 395.48 L288.9 400.19 L293.6 404.79 L296.5 412.18 L302.3 421.19 L307.5 421.77 L315.4 424.42 L324.8 430.3 L332 433.83" stroke="#ff5252" stroke-width="0.68" stroke-linejoin="round"/>
<path d="M58 486.74 L60.4 478.21 L62.9 467.08 L66.7 472.52 L69.9 463.18 L73 462.94 L76.8 454.29 L80 457.85 L83.1 457.95 L85.6 441.19 L89 428.18 L93.8 425.47 L97.6 418.19 L99.5 410.56 L102.6 404.72 L107 400.5 L112.7 401.05 L117.1 402.96 L119 396.58 L122.8 393.91 L125 392.02 L128.8 388.65 L131.3 389.88 L133.2 387.96 L135.7 387.63 L137.6 389.4 L142.7 386.54 L149 386.26 L152.1 384.57 L155.3 387.79 L159 382.12 L161.6 380.85 L163.5 384.06 L166 383.58 L168.2 382.3 L171.3 379.83 L172.6 380.24 L175.7 384.86 L179.5 378.6 L182 378.06 L183.9 375.62 L185.8 377.58 L190.2 375.82 L194.6 374.86 L198.4 374.48 L202.8 375.12 L210.1 376.36 L221.5 377.92 L232.8 379.83 L240 382.12 L245 381.29 L248 381.22 L251 384.09 L255.5 382.84 L260.4 386.07 L266 390.91 L271.5 393.94 L279.5 399.19 L288.9 403.95 L293.6 408.22 L296.5 415.02 L302.3 422.92 L307.5 423.99 L315.4 427.36 L324.8 433.51 L332 437.11" stroke="#ff5252" stroke-width="0.68" stroke-linejoin="round"/>
<path d="M58 493.94 L60.4 485.38 L62.9 474.23 L66.7 479.65 L69.9 470.28 L73 470.01 L76.8 461.33 L80 464.86 L83.1 464.91 L85.6 447.31 L89 433.25 L93.8 429.61 L97.6 421.82 L99.5 413.88 L102.6 407.76 L107 403 L112.7 403.3 L117.1 405.02 L119 398.56 L122.8 395.73 L125 393.73 L128.8 390.2 L131.3 391.37 L133.2 389.42 L135.7 389.06 L137.6 390.81 L142.7 387.88 L149 387.52 L152.1 385.84 L155.3 389.09 L159 383.45 L161.6 382.19 L163.5 385.43 L166 384.97 L168.2 383.7 L171.3 381.25 L172.6 381.68 L175.7 386.33 L179.5 380.09 L182 379.63 L183.9 377.25 L185.8 379.27 L190.2 377.64 L194.6 376.82 L198.4 376.56 L202.8 377.34 L210.1 378.73 L221.5 380.33 L232.8 382.23 L240 384 L245 382.9 L248 382.64 L251 385.38 L255.5 384.2 L260.4 387.44 L266 392.29 L271.5 395.33 L279.5 400.6 L288.9 405.37 L293.6 409.53 L296.5 416.09 L302.3 423.57 L307.5 424.84 L315.4 428.48 L324.8 434.72 L332 438.35" stroke="#ff5252" stroke-width="0.68" stroke-linejoin="round"/>
<path d="M58.8 309 L65.13 310.99 L74.21 313.86 L84.41 317.06 L94.1 320.1 L103.05 322.85 L112.07 325.57 L121.07 328.34 L130 331.2 L138.81 334.18 L147.56 337.24 L156.27 340.36 L165 343.5 L173.59 346.61 L182.06 349.73 L190.76 352.93 L200 356.3 L210.01 359.91 L220.56 363.69 L231.34 367.55 L242 371.4 L252.56 375.24 L263.16 379.12 L273.68 382.99 L284 386.8 L294.79 390.82 L305.88 394.98 L315.9 398.75 L323.5 401.6 L327.9 403.23 L329.97 403.98 L330.8 404.26 L331.5 404.5" stroke="#6e6e6e" stroke-width="0.9"/>
<path d="M58.8 303.7 L62.64 304.48 L68.15 305.59 L74.29 306.83 L80 308 L85.08 309.05 L90.08 310.09 L95.03 311.14 L100 312.2 L105.19 313.32 L110.51 314.49 L115.57 315.61 L120 316.6 L123.59 317.42 L126.59 318.13 L129.26 318.77 L131.9 319.4 L134.49 320.01 L136.91 320.59 L139.28 321.15 L141.7 321.7 L144.21 322.24 L146.74 322.78 L149.27 323.29 L151.8 323.8 L154.3 324.3 L156.79 324.79 L159.29 325.26 L161.8 325.7 L164.34 326.11 L166.9 326.49 L169.46 326.85 L172 327.2 L174.52 327.55 L177.02 327.89 L179.51 328.21 L182 328.5 L184.48 328.76 L186.96 329.01 L189.43 329.22 L191.9 329.4 L194.35 329.55 L196.79 329.68 L199.23 329.76 L201.7 329.8 L204.21 329.79 L206.74 329.74 L209.27 329.64 L211.8 329.5 L214.3 329.31 L216.79 329.07 L219.29 328.8 L221.8 328.5 L224.34 328.17 L226.9 327.81 L229.46 327.41 L232 327 L234.53 326.56 L237.04 326.1 L239.54 325.61 L242 325.1 L244.41 324.55 L246.77 323.97 L249.12 323.38 L251.5 322.8 L253.9 322.25 L256.32 321.71 L258.75 321.16 L261.2 320.6 L263.68 320.02 L266.18 319.42 L268.69 318.81 L271.2 318.2 L273.7 317.58 L276.21 316.96 L278.71 316.33 L281.2 315.7 L283.68 315.07 L286.15 314.45 L288.62 313.82 L291.1 313.2 L293.59 312.57 L296.09 311.94 L298.6 311.31 L301.1 310.7 L303.6 310.1 L306.11 309.52 L308.61 308.95 L311.1 308.4 L313.58 307.88 L316.05 307.38 L318.52 306.89 L321 306.4 L323.73 305.87 L326.62 305.32 L329.2 304.84 L331 304.5" stroke="#8a8a8a" stroke-width="1.1" stroke-dasharray="0.01 5.1" stroke-linecap="round"/>
<path d="M58.8 282.7 L62.64 283.53 L68.15 284.73 L74.29 286.06 L80 287.3 L85.08 288.4 L90.08 289.48 L95.03 290.54 L100 291.6 L105.23 292.71 L110.62 293.84 L115.7 294.9 L120 295.8 L123.17 296.45 L125.54 296.93 L127.64 297.37 L130 297.9 L132.73 298.57 L135.56 299.3 L138.46 300.06 L141.4 300.8 L144.39 301.53 L147.44 302.28 L150.52 303 L153.6 303.7 L156.69 304.36 L159.8 305.01 L162.89 305.62 L165.9 306.2 L168.78 306.75 L171.58 307.27 L174.38 307.75 L177.3 308.2 L180.41 308.59 L183.65 308.94 L186.89 309.27 L190 309.6 L192.94 309.94 L195.79 310.27 L198.59 310.59 L201.4 310.9 L204.23 311.2 L207.06 311.5 L209.88 311.77 L212.7 312 L215.52 312.18 L218.34 312.33 L221.17 312.44 L224 312.5 L226.84 312.51 L229.69 312.48 L232.55 312.41 L235.4 312.3 L238.37 312.14 L241.43 311.93 L244.32 311.7 L246.8 311.5 L248.58 311.35 L249.86 311.22 L251.16 311.09 L253 310.9 L255.52 310.66 L258.46 310.38 L261.66 310.06 L265 309.7 L268.52 309.29 L272.26 308.84 L276.1 308.36 L279.9 307.9 L283.65 307.45 L287.4 307.01 L291.15 306.56 L294.9 306.1 L298.63 305.63 L302.35 305.14 L306.07 304.66 L309.8 304.2 L313.75 303.74 L317.84 303.27 L321.67 302.84 L324.8 302.5 L327.11 302.26 L328.84 302.09 L330.09 301.98 L331 301.9" stroke="#000" stroke-width="1.25"/>
<path d="M162.89 305.62 L165.9 306.2 L168.78 306.75 L171.58 307.27 L174.38 307.75 L177.3 308.2 L180.41 308.59 L183.65 308.94 L186.89 309.27 L190 309.6 L192.94 309.94 L195.79 310.27 L198.59 310.59" stroke="#000" stroke-width="1.55"/>
<path d="M183.65 308.94 L186.89 309.27 L190 309.6 L192.94 309.94 L195.79 310.27 L198.59 310.59 L201.4 310.9 L204.23 311.2 L207.06 311.5 L209.88 311.77 L212.7 312 L215.52 312.18 L218.34 312.33 L221.17 312.44 L224 312.5 L226.84 312.51 L229.69 312.48 L232.55 312.41 L235.4 312.3 L238.37 312.14 L241.43 311.93 L244.32 311.7 L246.8 311.5 L248.58 311.35 L249.86 311.22 L251.16 311.09 L253 310.9 L255.52 310.66 L258.46 310.38 L261.66 310.06 L265 309.7 L268.52 309.29 L272.26 308.84 L276.1 308.36 L279.9 307.9 L283.65 307.45 L287.4 307.01 L291.15 306.56 L294.9 306.1 L298.63 305.63 L302.35 305.14 L306.07 304.66 L309.8 304.2 L313.75 303.74 L317.84 303.27 L321.67 302.84 L324.8 302.5 L327.11 302.26 L328.84 302.09 L330.09 301.98 L331 301.9" stroke="#000" stroke-width="1.85"/>
</g>
<rect x="94.5" y="286" width="6.8" height="6.6" fill="#0a9a0a"/>
<rect x="120.6" y="297.1" width="6.8" height="6.6" fill="#0a9a0a"/>
<rect x="218.1" y="304.5" width="6.8" height="6.6" fill="#0a9a0a"/>
<rect x="251" y="306.1" width="6.8" height="6.6" fill="#0a9a0a"/>
<rect x="285" y="301" width="6.8" height="6.6" fill="#0a9a0a"/>
<path d="M97.8 412.85 L99.12 416.18 L102.7 416.41 L99.94 418.7 L100.83 422.17 L97.8 420.25 L94.77 422.17 L95.66 418.7 L92.9 416.41 L96.48 416.18Z" fill="#0a0aff"/>
<path d="M221.4 372.35 L222.72 375.68 L226.3 375.91 L223.54 378.2 L224.43 381.67 L221.4 379.75 L218.37 381.67 L219.26 378.2 L216.5 375.91 L220.08 375.68Z" fill="#0a0aff"/>
<path d="M254.2 374.15 L255.52 377.48 L259.1 377.71 L256.34 380 L257.23 383.47 L254.2 381.55 L251.17 383.47 L252.06 380 L249.3 377.71 L252.88 377.48Z" fill="#0a0aff"/>
<path d="M288.3 391.85 L289.62 395.18 L293.2 395.41 L290.44 397.7 L291.33 401.17 L288.3 399.25 L285.27 401.17 L286.16 397.7 L283.4 395.41 L286.98 395.18Z" fill="#0a0aff"/>
<circle cx="97.9" cy="315.8" r="3.4" fill="none" stroke="#22a022" stroke-width="1.1"/>
<circle cx="124" cy="335.7" r="3.4" fill="none" stroke="#22a022" stroke-width="1.1"/>
<circle cx="221.4" cy="360.3" r="3.4" fill="none" stroke="#22a022" stroke-width="1.1"/>
<circle cx="254.2" cy="376.4" r="3.4" fill="none" stroke="#22a022" stroke-width="1.1"/>
<circle cx="288.3" cy="401.2" r="3.4" fill="none" stroke="#22a022" stroke-width="1.1"/>
<path d="M97.8 424.5 L101.9 431.8 L93.7 431.8Z" fill="none" stroke="#3fae3f" stroke-width="0.9"/>
<path d="M124.2 444.1 L128.3 451.4 L120.1 451.4Z" fill="none" stroke="#3fae3f" stroke-width="0.9"/>
<path d="M221.5 451.7 L225.6 459 L217.4 459Z" fill="none" stroke="#3fae3f" stroke-width="0.9"/>
<path d="M254.6 458 L258.7 465.3 L250.5 465.3Z" fill="none" stroke="#3fae3f" stroke-width="0.9"/>
<path d="M123.8 416.9 H160.6" stroke="#8a8a8a" stroke-width="0.9"/>
<path d="M125.5 424 H160.6" stroke="#8a8a8a" stroke-width="1" stroke-dasharray="0.01 5" stroke-linecap="round"/>
<path d="M123.8 431.1 H130.5 M137.5 431.1 H144.5 M152 431.1 H160.6" stroke="#8a8a8a" stroke-width="0.9"/>
<text x="168" y="418.8" font-size="8.2" textLength="84.5" lengthAdjust="spacing" style="fill:#8a8a8a">Disc Grav. Emission</text>
<text x="168" y="425.8" font-size="8.2" textLength="83.8" lengthAdjust="spacing" style="fill:#8a8a8a">Disc X−ray Heating</text>
<text x="168" y="432.8" font-size="8.2" textLength="64" lengthAdjust="spacing" style="fill:#8a8a8a">Torus emission</text>
<path d="M85.8 467.4 v-3.9 M85.8 280.1 v3.9 M140.4 467.4 v-3.9 M140.4 280.1 v3.9 M195 467.4 v-3.9 M195 280.1 v3.9 M249.6 467.4 v-3.9 M249.6 280.1 v3.9 M304.2 467.4 v-3.9 M304.2 280.1 v3.9 M113.1 467.4 v-2.3 M113.1 280.1 v2.3 M167.7 467.4 v-2.3 M167.7 280.1 v2.3 M222.3 467.4 v-2.3 M222.3 280.1 v2.3 M276.9 467.4 v-2.3 M276.9 280.1 v2.3" stroke="#000" stroke-width="1.0" fill="none"/>
<path d="M58.5 296 h3.9 M331.45 296 h-3.9 M58.5 335.93 h3.9 M331.45 335.93 h-3.9 M58.5 375.85 h3.9 M331.45 375.85 h-3.9 M58.5 415.77 h3.9 M331.45 415.77 h-3.9 M58.5 455.7 h3.9 M331.45 455.7 h-3.9 M58.5 288.02 h2.3 M331.45 288.02 h-2.3 M58.5 303.98 h2.3 M331.45 303.98 h-2.3 M58.5 311.97 h2.3 M331.45 311.97 h-2.3 M58.5 319.96 h2.3 M331.45 319.96 h-2.3 M58.5 327.94 h2.3 M331.45 327.94 h-2.3 M58.5 343.91 h2.3 M331.45 343.91 h-2.3 M58.5 351.89 h2.3 M331.45 351.89 h-2.3 M58.5 359.88 h2.3 M331.45 359.88 h-2.3 M58.5 367.87 h2.3 M331.45 367.87 h-2.3 M58.5 383.83 h2.3 M331.45 383.83 h-2.3 M58.5 391.82 h2.3 M331.45 391.82 h-2.3 M58.5 399.81 h2.3 M331.45 399.81 h-2.3 M58.5 407.79 h2.3 M331.45 407.79 h-2.3 M58.5 423.76 h2.3 M331.45 423.76 h-2.3 M58.5 431.74 h2.3 M331.45 431.74 h-2.3 M58.5 439.73 h2.3 M331.45 439.73 h-2.3 M58.5 447.72 h2.3 M331.45 447.72 h-2.3 M58.5 463.68 h2.3 M331.45 463.68 h-2.3" stroke="#000" stroke-width="1.0" fill="none"/>
<rect x="58.5" y="280.1" width="272.95" height="187.3" fill="none" stroke="#000" stroke-width="1.4"/>
<text x="85.9" y="477.9" font-size="8.2" text-anchor="middle" class="tl">3.6</text>
<text x="140.5" y="477.9" font-size="8.2" text-anchor="middle" class="tl">3.8</text>
<text x="195.1" y="477.9" font-size="8.2" text-anchor="middle" class="tl">4</text>
<text x="249.7" y="477.9" font-size="8.2" text-anchor="middle" class="tl">4.2</text>
<text x="304.3" y="477.9" font-size="8.2" text-anchor="middle" class="tl">4.4</text>
<text x="53" y="299" font-size="8.2" text-anchor="end" class="tl">−10.5</text>
<text x="53" y="338.93" font-size="8.2" text-anchor="end" class="tl">−11</text>
<text x="53" y="378.85" font-size="8.2" text-anchor="end" class="tl">−11.5</text>
<text x="53" y="418.77" font-size="8.2" text-anchor="end" class="tl">−12</text>
<text x="53" y="458.7" font-size="8.2" text-anchor="end" class="tl">−12.5</text>
<text x="94.3" y="276.2" font-size="13.5" style="font-family:'Liberation Serif',serif;font-weight:bold;font-style:italic;fill:#1a1aff">B</text>
<text x="120.4" y="276.2" font-size="13.5" style="font-family:'Liberation Serif',serif;font-weight:bold;font-style:italic;fill:#1a1aff">V</text>
<text x="218.3" y="276.2" font-size="13.5" style="font-family:'Liberation Serif',serif;font-weight:bold;font-style:italic;fill:#8a1aff">J</text>
<text x="249.8" y="276.2" font-size="13.5" style="font-family:'Liberation Serif',serif;font-weight:bold;font-style:italic;fill:#ff8c1a">H</text>
<text x="283.2" y="276.2" font-size="13.5" style="font-family:'Liberation Serif',serif;font-weight:bold;font-style:italic;fill:#f01414">K</text>
<text x="137.1" y="493.3" class="ax">log Wavelength <tspan dx="-1" dy="0.9" style="font-family:'Liberation Serif',serif;font-size:12.5px">(</tspan><tspan style="font-family:'Liberation Serif',serif;font-weight:bold;font-size:11.8px">Å</tspan><tspan style="font-family:'Liberation Serif',serif;font-size:12.5px">)</tspan></text>
</svg>
</body></html>
